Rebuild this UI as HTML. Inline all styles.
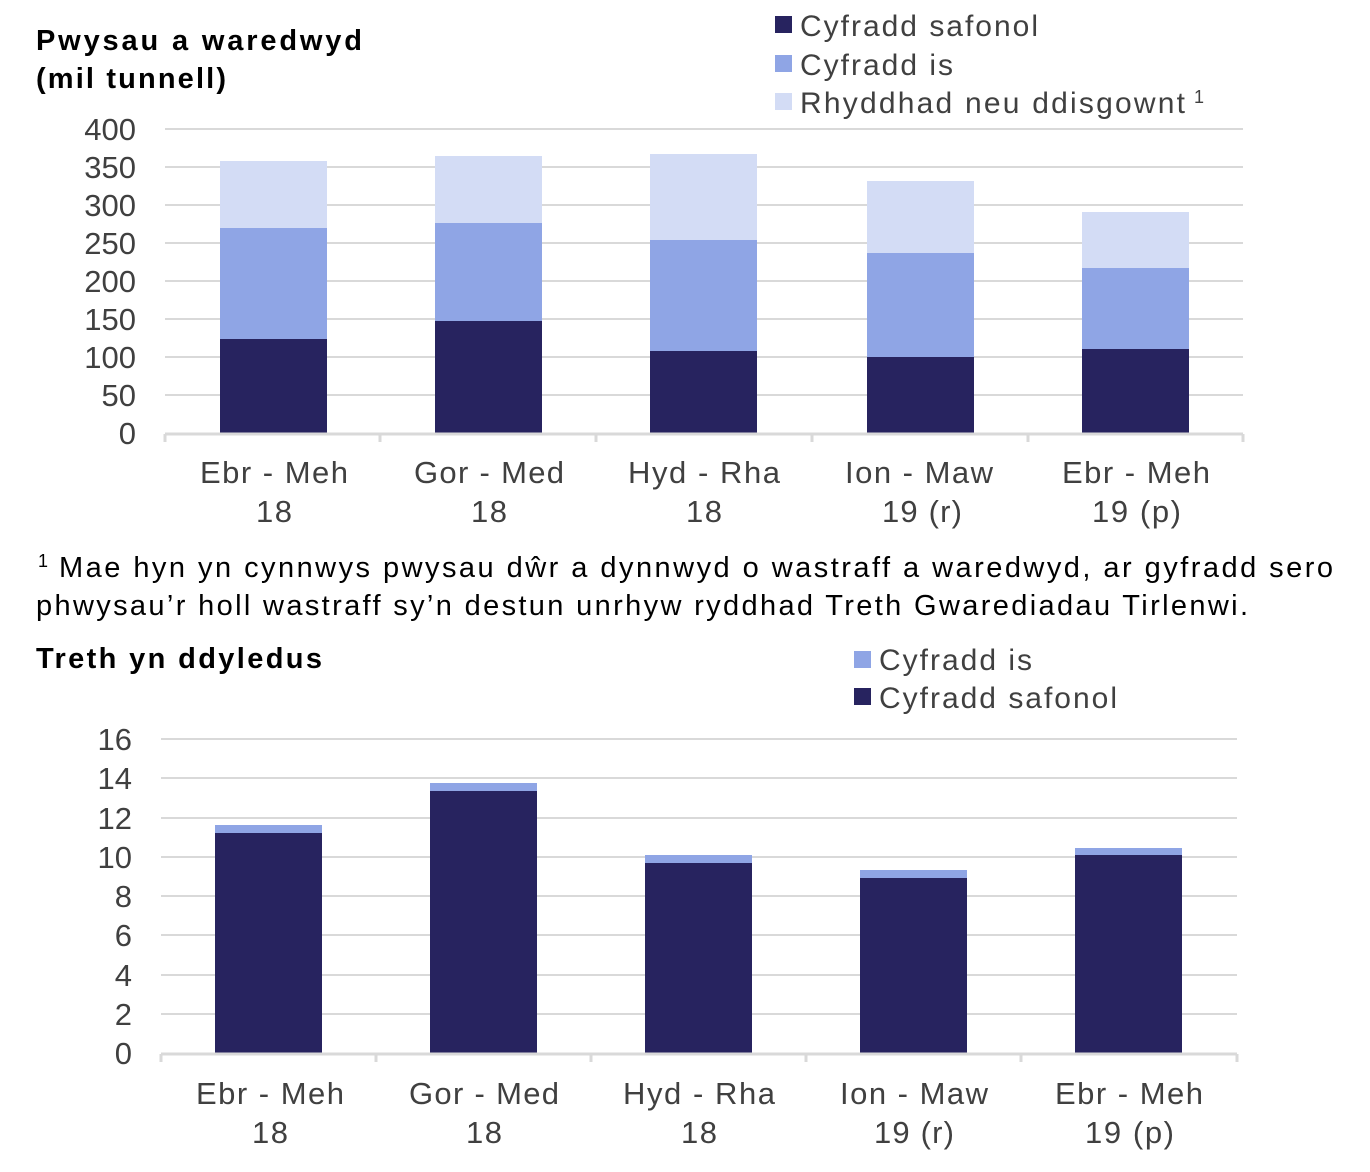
<!DOCTYPE html>
<html><head><meta charset="utf-8"><style>
html,body{margin:0;padding:0;background:#fff;}
svg{display:block;font-family:"Liberation Sans",Arial,sans-serif;}
</style></head><body>
<svg width="1370" height="1172" viewBox="0 0 1370 1172" xmlns="http://www.w3.org/2000/svg">
<!-- Top chart -->
<text x="36" y="50" font-size="29" font-weight="bold" fill="#000" textLength="326" lengthAdjust="spacing">Pwysau a waredwyd</text>
<text x="36" y="88" font-size="29" font-weight="bold" fill="#000" textLength="190" lengthAdjust="spacing">(mil tunnell)</text>
<rect x="775" y="16" width="17" height="17" fill="#27235F"/>
<text x="800" y="36" font-size="30" fill="#404040" textLength="238" lengthAdjust="spacing">Cyfradd safonol</text>
<rect x="775" y="55" width="17" height="17" fill="#8FA5E5"/>
<text x="800" y="75" font-size="30" fill="#404040" textLength="153" lengthAdjust="spacing">Cyfradd is</text>
<rect x="775" y="93" width="17" height="17" fill="#D3DCF5"/>
<text x="800" y="113" font-size="30" fill="#404040" textLength="385" lengthAdjust="spacing">Rhyddhad neu ddisgownt</text>
<text x="1194" y="103" font-size="18" fill="#404040">1</text>
<g stroke="#D9D9D9" stroke-width="2">
<line x1="165" y1="129" x2="1243" y2="129"/><line x1="165" y1="167" x2="1243" y2="167"/>
<line x1="165" y1="205" x2="1243" y2="205"/><line x1="165" y1="243" x2="1243" y2="243"/>
<line x1="165" y1="281" x2="1243" y2="281"/><line x1="165" y1="319" x2="1243" y2="319"/>
<line x1="165" y1="357" x2="1243" y2="357"/><line x1="165" y1="395" x2="1243" y2="395"/>
</g>
<g font-size="31" fill="#404040" text-anchor="end">
<text x="136" y="140">400</text><text x="136" y="178">350</text><text x="136" y="216">300</text>
<text x="136" y="254">250</text><text x="136" y="292">200</text><text x="136" y="330">150</text>
<text x="136" y="368">100</text><text x="136" y="406">50</text><text x="136" y="444">0</text>
</g>
<g>
<rect x="220" y="161" width="107" height="67" fill="#D3DCF5"/><rect x="220" y="228" width="107" height="111" fill="#8FA5E5"/><rect x="220" y="339" width="107" height="94" fill="#27235F"/>
<rect x="435" y="156" width="107" height="67" fill="#D3DCF5"/><rect x="435" y="223" width="107" height="98" fill="#8FA5E5"/><rect x="435" y="321" width="107" height="112" fill="#27235F"/>
<rect x="650" y="154" width="107" height="86" fill="#D3DCF5"/><rect x="650" y="240" width="107" height="111" fill="#8FA5E5"/><rect x="650" y="351" width="107" height="82" fill="#27235F"/>
<rect x="867" y="181" width="107" height="72" fill="#D3DCF5"/><rect x="867" y="253" width="107" height="104" fill="#8FA5E5"/><rect x="867" y="357" width="107" height="76" fill="#27235F"/>
<rect x="1082" y="212" width="107" height="56" fill="#D3DCF5"/><rect x="1082" y="268" width="107" height="81" fill="#8FA5E5"/><rect x="1082" y="349" width="107" height="84" fill="#27235F"/>
</g>
<g stroke="#D9D9D9" stroke-width="3">
<line x1="165" y1="434" x2="1243" y2="434"/>
<line x1="165" y1="434" x2="165" y2="442"/><line x1="380" y1="434" x2="380" y2="442"/><line x1="596" y1="434" x2="596" y2="442"/>
<line x1="812" y1="434" x2="812" y2="442"/><line x1="1028" y1="434" x2="1028" y2="442"/><line x1="1243" y1="434" x2="1243" y2="442"/>
</g>
<g font-size="31" fill="#404040">
<text x="200" y="483" textLength="148" lengthAdjust="spacing">Ebr - Meh</text><text x="256" y="522" textLength="36" lengthAdjust="spacing">18</text>
<text x="414" y="483" textLength="150" lengthAdjust="spacing">Gor - Med</text><text x="471" y="522" textLength="36" lengthAdjust="spacing">18</text>
<text x="628" y="483" textLength="152" lengthAdjust="spacing">Hyd - Rha</text><text x="686" y="522" textLength="36" lengthAdjust="spacing">18</text>
<text x="845" y="483" textLength="148" lengthAdjust="spacing">Ion - Maw</text><text x="882" y="522" textLength="80" lengthAdjust="spacing">19 (r)</text>
<text x="1062" y="483" textLength="148" lengthAdjust="spacing">Ebr - Meh</text><text x="1092" y="522" textLength="89" lengthAdjust="spacing">19 (p)</text>
</g>
<text x="38" y="567" font-size="18" fill="#000">1</text>
<text x="59" y="577" font-size="29" fill="#000" textLength="1274" lengthAdjust="spacing">Mae hyn yn cynnwys pwysau dŵr a dynnwyd o wastraff a waredwyd, ar gyfradd sero</text>
<text x="36" y="615" font-size="29" fill="#000" textLength="1212" lengthAdjust="spacing">phwysau’r holl wastraff sy’n destun unrhyw ryddhad Treth Gwarediadau Tirlenwi.</text>
<!-- Bottom chart -->
<text x="36" y="668" font-size="29" font-weight="bold" fill="#000" textLength="286" lengthAdjust="spacing">Treth yn ddyledus</text>
<rect x="854" y="651" width="17" height="17" fill="#8FA5E5"/>
<text x="879" y="670" font-size="30" fill="#404040" textLength="153" lengthAdjust="spacing">Cyfradd is</text>
<rect x="854" y="688" width="17" height="17" fill="#27235F"/>
<text x="879" y="708" font-size="30" fill="#404040" textLength="238" lengthAdjust="spacing">Cyfradd safonol</text>
<g stroke="#D9D9D9" stroke-width="2">
<line x1="161" y1="739" x2="1237" y2="739"/><line x1="161" y1="778" x2="1237" y2="778"/>
<line x1="161" y1="818" x2="1237" y2="818"/><line x1="161" y1="857" x2="1237" y2="857"/>
<line x1="161" y1="896" x2="1237" y2="896"/><line x1="161" y1="935" x2="1237" y2="935"/>
<line x1="161" y1="975" x2="1237" y2="975"/><line x1="161" y1="1014" x2="1237" y2="1014"/>
</g>
<g font-size="31" fill="#404040" text-anchor="end">
<text x="132" y="750">16</text><text x="132" y="789">14</text><text x="132" y="829">12</text>
<text x="132" y="868">10</text><text x="132" y="907">8</text><text x="132" y="946">6</text>
<text x="132" y="986">4</text><text x="132" y="1025">2</text><text x="132" y="1064">0</text>
</g>
<g>
<rect x="215" y="825" width="107" height="8" fill="#8FA5E5"/><rect x="215" y="833" width="107" height="220" fill="#27235F"/>
<rect x="430" y="783" width="107" height="8" fill="#8FA5E5"/><rect x="430" y="791" width="107" height="262" fill="#27235F"/>
<rect x="645" y="855" width="107" height="8" fill="#8FA5E5"/><rect x="645" y="863" width="107" height="190" fill="#27235F"/>
<rect x="860" y="870" width="107" height="8" fill="#8FA5E5"/><rect x="860" y="878" width="107" height="175" fill="#27235F"/>
<rect x="1075" y="848" width="107" height="7" fill="#8FA5E5"/><rect x="1075" y="855" width="107" height="198" fill="#27235F"/>
</g>
<g stroke="#D9D9D9" stroke-width="3">
<line x1="161" y1="1054" x2="1237" y2="1054"/>
<line x1="161" y1="1054" x2="161" y2="1062"/><line x1="376" y1="1054" x2="376" y2="1062"/><line x1="591" y1="1054" x2="591" y2="1062"/>
<line x1="806" y1="1054" x2="806" y2="1062"/><line x1="1021" y1="1054" x2="1021" y2="1062"/><line x1="1237" y1="1054" x2="1237" y2="1062"/>
</g>
<g font-size="31" fill="#404040">
<text x="196" y="1104" textLength="148" lengthAdjust="spacing">Ebr - Meh</text><text x="252" y="1143" textLength="36" lengthAdjust="spacing">18</text>
<text x="409" y="1104" textLength="150" lengthAdjust="spacing">Gor - Med</text><text x="466" y="1143" textLength="36" lengthAdjust="spacing">18</text>
<text x="623" y="1104" textLength="152" lengthAdjust="spacing">Hyd - Rha</text><text x="681" y="1143" textLength="36" lengthAdjust="spacing">18</text>
<text x="840" y="1104" textLength="148" lengthAdjust="spacing">Ion - Maw</text><text x="874" y="1143" textLength="80" lengthAdjust="spacing">19 (r)</text>
<text x="1055" y="1104" textLength="148" lengthAdjust="spacing">Ebr - Meh</text><text x="1085" y="1143" textLength="89" lengthAdjust="spacing">19 (p)</text>
</g>
</svg>
</body></html>
